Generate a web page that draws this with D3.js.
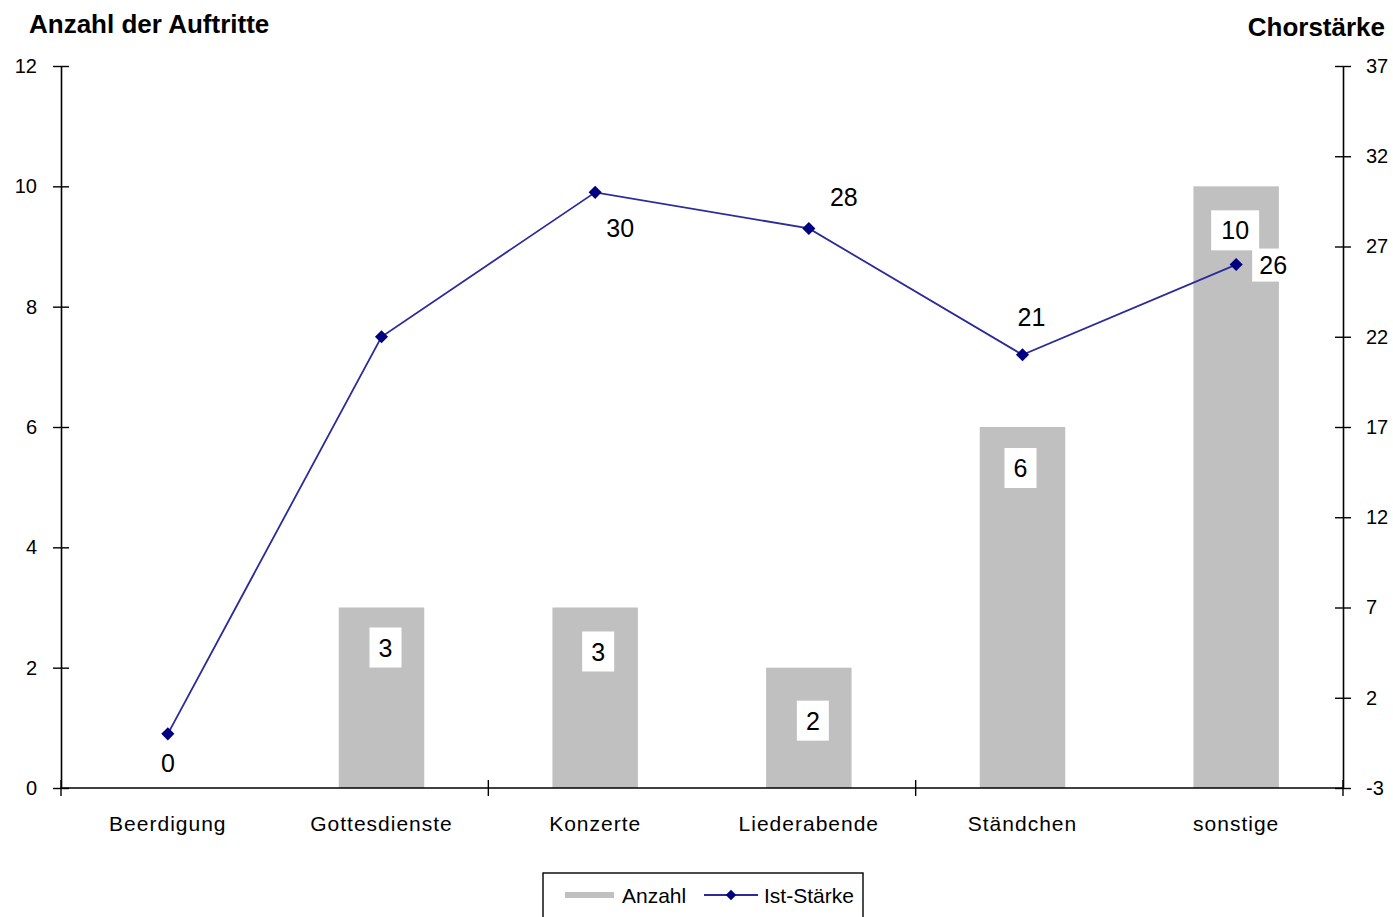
<!DOCTYPE html>
<html>
<head>
<meta charset="utf-8">
<script src="https://cdn.jsdelivr.net/npm/d3@7"></script>
<style>
  body { margin: 0; background: #fff; }
  svg text { font-family: "Liberation Sans", Arial, sans-serif; fill: #000; }
</style>
</head>
<body>
<div id="chart"></div>
<script>
/* DATA */
const categories = ["Beerdigung", "Gottesdienste", "Konzerte", "Liederabende", "Ständchen", "sonstige"];
const anzahl = [0, 3, 3, 2, 6, 10];       // bars, left axis
const istStaerke = [0, 22, 30, 28, 21, 26]; // line, right axis
const leftTicks = [0, 2, 4, 6, 8, 10, 12];
const rightTicks = [-3, 2, 7, 12, 17, 22, 27, 32, 37];

/* LAYOUT */
const width = 1393, height = 917,
  margin = { top: 66, bottom: 129, left: 61, right: 50 };
const plotRight = width - margin.right;
const plotBottom = height - margin.bottom;

// manual nudges of the data labels (Excel labels were dragged around)
const barLabelDy = [0, 40, 44, 53, 41, 44];
const barLabelDx = [0, 4, 3, 4, -2, -1];
const lineLabelPos = [
  { dx: 0, dy: 29, show: true },
  { dx: 0, dy: 0, show: false },
  { dx: 25, dy: 36, show: true },
  { dx: 35, dy: -31, show: true },
  { dx: 9, dy: -38, show: true },
  { dx: 37, dy: 0, show: true, box: true }
];

const svg = d3.select("#chart").append("svg")
  .attr("width", width)
  .attr("height", height);

/* SCALES */
const x = d3.scaleBand()
  .domain(categories)
  .range([margin.left, plotRight])
  .paddingInner(0.6)
  .paddingOuter(0.3);
const step = x.step();

const yLeft = d3.scaleLinear().domain([0, 12]).range([plotBottom, margin.top]);
const yRight = d3.scaleLinear().domain([-3, 37]).range([plotBottom, margin.top]);

/* BARS */
svg.append("g").selectAll("rect")
  .data(anzahl.map((v, i) => ({ cat: categories[i], v })))
  .join("rect")
  .attr("x", d => x(d.cat))
  .attr("width", x.bandwidth())
  .attr("y", d => yLeft(d.v))
  .attr("height", d => yLeft(0) - yLeft(d.v))
  .attr("fill", "#c0c0c0");

/* AXES */
const axisStyle = g => {
  g.select(".domain").attr("stroke", "#000").attr("stroke-width", 1.6);
  g.selectAll(".tick line").attr("stroke", "#000").attr("stroke-width", 1.4)
    .attr("x1", -8).attr("x2", 8);
  g.selectAll(".tick text").style("font-size", "20px");
};

svg.append("g")
  .attr("transform", `translate(${margin.left},0)`)
  .call(d3.axisLeft(yLeft).tickValues(leftTicks).tickSize(0).tickSizeOuter(0)
    .tickPadding(24).tickFormat(d => String(d)))
  .call(axisStyle);

svg.append("g")
  .attr("transform", `translate(${plotRight},0)`)
  .call(d3.axisRight(yRight).tickValues(rightTicks).tickSize(0).tickSizeOuter(0)
    .tickPadding(23).tickFormat(d => String(d)))
  .call(axisStyle);

// category axis: labels at every category, tick marks every second boundary
const xAxisG = svg.append("g").attr("transform", `translate(0,${plotBottom})`);
xAxisG.append("line")
  .attr("x1", margin.left).attr("x2", plotRight)
  .attr("stroke", "#000").attr("stroke-width", 1.6);
xAxisG.selectAll(".xtick")
  .data(d3.range(0, categories.length + 1, 2))
  .join("line")
  .attr("class", "xtick")
  .attr("x1", i => margin.left + i * step)
  .attr("x2", i => margin.left + i * step)
  .attr("y1", -8).attr("y2", 8)
  .attr("stroke", "#000").attr("stroke-width", 1.4);
xAxisG.selectAll(".xlabel")
  .data(categories)
  .join("text")
  .attr("class", "xlabel")
  .attr("x", d => x(d) + x.bandwidth() / 2)
  .attr("y", 43)
  .attr("text-anchor", "middle")
  .style("font-size", "21px")
  .style("letter-spacing", "1px")
  .text(d => d);

/* BAR LABELS */
const barLab = svg.append("g").selectAll("g")
  .data(anzahl.map((v, i) => ({ cat: categories[i], v, i })).filter(d => d.v > 0))
  .join("g")
  .attr("transform", d => `translate(${x(d.cat) + x.bandwidth() / 2 + barLabelDx[d.i]},${yLeft(d.v) + barLabelDy[d.i]})`);
barLab.append("rect")
  .attr("x", d => d.v >= 10 ? -24 : -16)
  .attr("width", d => d.v >= 10 ? 48 : 32)
  .attr("y", -20).attr("height", 40)
  .attr("fill", "#fff");
barLab.append("text")
  .attr("text-anchor", "middle")
  .attr("dy", "0.36em")
  .style("font-size", "25px")
  .text(d => d.v);

/* LINE */
const pts = istStaerke.map((v, i) => ({ cat: categories[i], v, i }));
const line = d3.line()
  .x(d => x(d.cat) + x.bandwidth() / 2)
  .y(d => yRight(d.v));

// white box of the "26" label sits behind the line
const lastLab = pts.filter(d => lineLabelPos[d.i].box);
svg.append("g").selectAll("rect")
  .data(lastLab)
  .join("rect")
  .attr("x", d => x(d.cat) + x.bandwidth() / 2 + lineLabelPos[d.i].dx - 21)
  .attr("y", d => yRight(d.v) - 16)
  .attr("width", 42).attr("height", 33)
  .attr("fill", "#fff");

svg.append("path")
  .datum(pts)
  .attr("d", line)
  .attr("fill", "none")
  .attr("stroke", "#2b2b9a")
  .attr("stroke-width", 1.8);

svg.append("g").selectAll("path")
  .data(pts)
  .join("path")
  .attr("d", d3.symbol(d3.symbolDiamond2, 110))
  .attr("transform", d => `translate(${x(d.cat) + x.bandwidth() / 2},${yRight(d.v)})`)
  .attr("fill", "#000080");

svg.append("g").selectAll("text")
  .data(pts.filter(d => lineLabelPos[d.i].show))
  .join("text")
  .attr("x", d => x(d.cat) + x.bandwidth() / 2 + lineLabelPos[d.i].dx)
  .attr("y", d => yRight(d.v) + lineLabelPos[d.i].dy)
  .attr("dy", "0.36em")
  .attr("text-anchor", "middle")
  .style("font-size", "25px")
  .text(d => d.v);

/* AXIS TITLES */
svg.append("text")
  .attr("x", 29).attr("y", 33)
  .style("font-size", "26px").style("font-weight", "bold")
  .text("Anzahl der Auftritte");
svg.append("text")
  .attr("x", 1385).attr("y", 36)
  .attr("text-anchor", "end")
  .style("font-size", "26px").style("font-weight", "bold")
  .text("Chorstärke");

/* LEGEND */
const legend = svg.append("g").attr("transform", "translate(543,873)");
legend.append("rect")
  .attr("width", 320).attr("height", 60)
  .attr("fill", "#fff").attr("stroke", "#000").attr("stroke-width", 1.4);
legend.append("rect")
  .attr("x", 22).attr("y", 19).attr("width", 49).attr("height", 6)
  .attr("fill", "#c0c0c0");
legend.append("text")
  .attr("x", 79).attr("y", 22).attr("dy", "0.36em")
  .style("font-size", "21px").text("Anzahl");
legend.append("line")
  .attr("x1", 161).attr("x2", 215).attr("y1", 22).attr("y2", 22)
  .attr("stroke", "#2b2b9a").attr("stroke-width", 1.8);
legend.append("path")
  .attr("d", d3.symbol(d3.symbolDiamond2, 70))
  .attr("transform", "translate(188,22)")
  .attr("fill", "#000080");
legend.append("text")
  .attr("x", 221).attr("y", 22).attr("dy", "0.36em")
  .style("font-size", "21px").text("Ist-Stärke");
</script>
</body>
</html>
